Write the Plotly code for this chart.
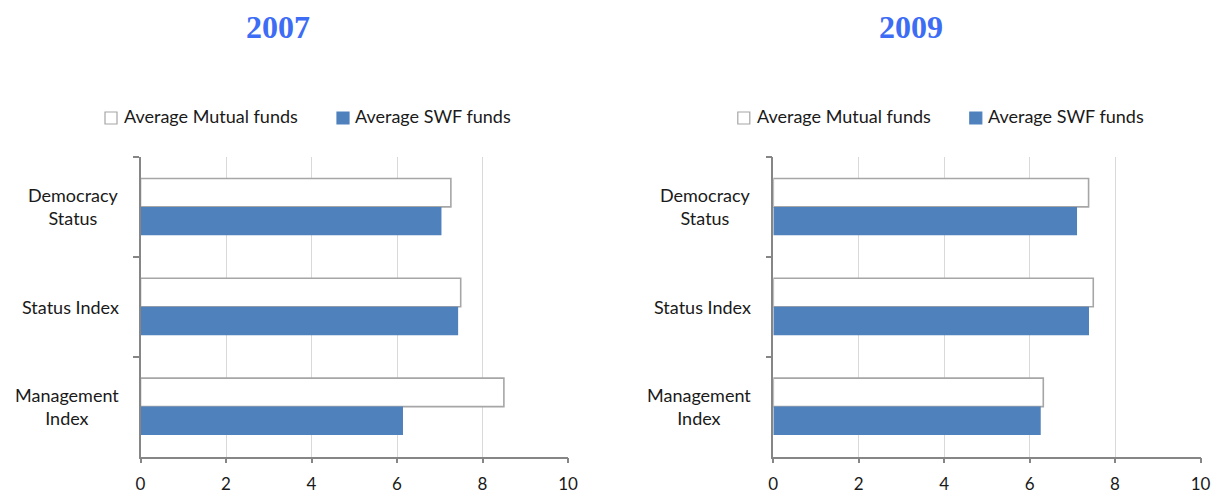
import plotly.graph_objects as go

# ---- data ----
categories = ["Democracy<br>Status", "Status Index", "Management<br>Index"]
years = ["2007", "2009"]
series_names = ["Average Mutual funds", "Average SWF funds"]
mutual_2007 = [7.26, 7.49, 8.50]
swf_2007 = [7.04, 7.43, 6.14]
mutual_2009 = [7.38, 7.49, 6.32]
swf_2009 = [7.11, 7.39, 6.26]
x_ticks = [0, 2, 4, 6, 8, 10]

W, H = 1213, 497
FONT = "Lato"
TXT = "#1a1a1a"
AXC = "#868686"
GRID = "#d9d9d9"
SWF_C = "#4f81bd"
MUT_LINE = "#a6a6a6"
TITLE_C = "#3d6cf5"


def px_x(p):
    return p / W


def px_y(p):
    return 1 - p / H


panels = [
    dict(year=years[0], mut=mutual_2007, swf=swf_2007, x0=140.5, x1=568.0, xa="x", ya="y"),
    dict(year=years[1], mut=mutual_2009, swf=swf_2009, x0=773.3, x1=1200.5, xa="x2", ya="y2"),
]
y_top, y_bot = 157.0, 456.5

fig = go.Figure()
shapes = []
annotations = []

for i, p in enumerate(panels):
    fig.add_trace(go.Bar(
        orientation="h", y=categories, x=p["mut"], name=series_names[0],
        xaxis=p["xa"], yaxis=p["ya"], showlegend=False,
        marker=dict(color="white", line=dict(color=MUT_LINE, width=1.6)),
        hoverinfo="x+y",
    ))
    fig.add_trace(go.Bar(
        orientation="h", y=categories, x=p["swf"], name=series_names[1],
        xaxis=p["xa"], yaxis=p["ya"], showlegend=False,
        marker=dict(color=SWF_C, line=dict(width=0)),
        hoverinfo="x+y",
    ))
    sfx = "" if i == 0 else "2"
    fig.update_layout(**{
        "xaxis" + sfx: dict(
            domain=[px_x(p["x0"]), px_x(p["x1"])], anchor="y" + sfx,
            range=[0, 10], tickvals=x_ticks, showgrid=True, gridcolor=GRID, gridwidth=1,
            showline=True, linecolor=AXC, linewidth=1.5, zeroline=False,
            ticks="outside", ticklen=5, tickcolor=AXC, tickwidth=1.5,
            tickfont=dict(family=FONT, size=17, color=TXT), ticklabelstandoff=6,
            fixedrange=True, automargin=False,
        ),
        "yaxis" + sfx: dict(
            domain=[px_y(y_bot), px_y(y_top)], anchor="x" + sfx,
            type="category", categoryorder="array", categoryarray=categories,
            autorange="reversed", showgrid=False, showline=True, linecolor=AXC,
            linewidth=1.5, ticks="outside", ticklen=6, tickcolor=AXC, tickwidth=1.5,
            tickson="boundaries", showticklabels=False, fixedrange=True, automargin=False,
        ),
    })
    # category labels, centred multi-line like the original
    for c in categories:
        annotations.append(dict(
            xref="paper", yref="y" + sfx, x=px_x(p["x0"] - 20), y=c, text=c,
            xanchor="right", yanchor="middle", align="center", showarrow=False,
            font=dict(family=FONT, size=18, color=TXT),
        ))
    # year title
    annotations.append(dict(
        xref="paper", yref="paper", x=px_x((p["x0"] + p["x1"]) / 2 - 76), y=px_y(27),
        text="<b>%s</b>" % p["year"], showarrow=False, xanchor="center", yanchor="middle",
        font=dict(family="Liberation Serif", size=32, color=TITLE_C),
    ))
    # legend (manual, one per panel)
    off = p["x0"] - 140.5
    leg = [(105 + off, "white", MUT_LINE, series_names[0], 122 + off),
           (337 + off, SWF_C, SWF_C, series_names[1], 353 + off)]
    for sx, fc, lc, nm, tx in leg:
        shapes.append(dict(type="rect", xref="paper", yref="paper",
                           x0=px_x(sx), x1=px_x(sx + 12), y0=px_y(124), y1=px_y(112),
                           fillcolor=fc, line=dict(color=lc, width=1.2)))
        annotations.append(dict(
            xref="paper", yref="paper", x=px_x(tx), y=px_y(116), text=nm,
            xanchor="left", yanchor="middle", showarrow=False,
            font=dict(family=FONT, size=18, color=TXT),
        ))

fig.update_layout(
    width=W, height=H, autosize=False, margin=dict(l=0, r=0, t=0, b=0, pad=0),
    paper_bgcolor="white", plot_bgcolor="white",
    barmode="group", bargap=0.43, bargroupgap=0,
    shapes=shapes, annotations=annotations, showlegend=False,
)

fig.write_html(
    "out.html",
    config={"responsive": False, "displayModeBar": False},
    post_script="document.body.style.margin='0';document.body.style.padding='0';"
                "document.body.style.overflow='hidden';",
)
